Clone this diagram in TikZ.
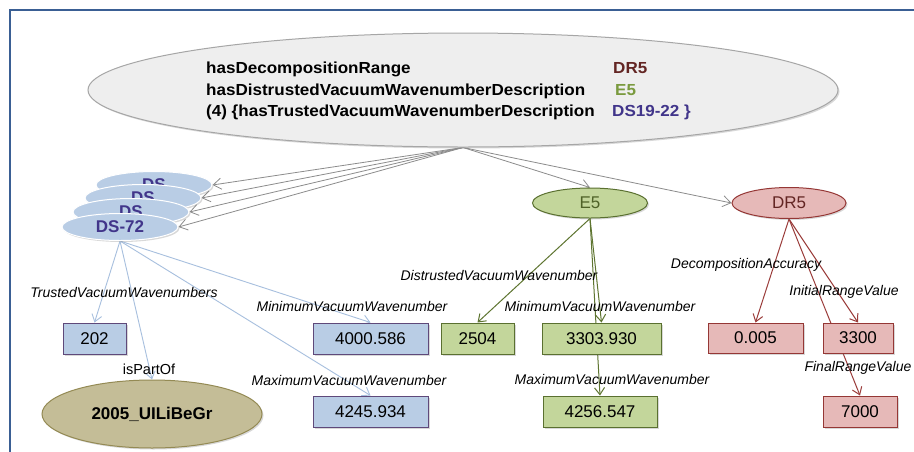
\documentclass[tikz,border=0pt]{standalone}
\usepackage{fontspec}
\setmainfont{Liberation Sans}
\usepackage{graphicx}
\usetikzlibrary{shapes.geometric,arrows.meta,shadows}
\definecolor{frameblue}{HTML}{3A5F94}
\definecolor{bigfill}{HTML}{EEEEEE}
\definecolor{bigdraw}{HTML}{A6A6A6}
\definecolor{dsfill}{HTML}{B9CDE5}
\definecolor{dstext}{HTML}{41358A}
\definecolor{bluedraw}{HTML}{5F497A}
\definecolor{blueline}{HTML}{A7BFDE}
\definecolor{grfill}{HTML}{C3D69B}
\definecolor{grdraw}{HTML}{5A7030}
\definecolor{grtext}{HTML}{4F6228}
\definecolor{grline}{HTML}{5E7530}
\definecolor{e5text}{HTML}{7A9A3E}
\definecolor{rdfill}{HTML}{E6B9B8}
\definecolor{rddraw}{HTML}{953735}
\definecolor{rdtext}{HTML}{632523}
\definecolor{rdline}{HTML}{9B3D3B}
\definecolor{tanfill}{HTML}{C4BD97}
\definecolor{tandraw}{HTML}{948A54}
\definecolor{arrgray}{HTML}{8C8C8C}
\pgfdeclarelayer{bglayer}
\pgfdeclarelayer{edges}
\pgfsetlayers{bglayer,edges,main}
\begin{document}
\begin{tikzpicture}[x=1pt,y=-1pt,
  shad/.style={drop shadow={opacity=0.3,shadow xshift=1.5pt,shadow yshift=-1.5pt}},
  valbox/.style={rectangle,draw,line width=1pt,minimum height=31pt,inner sep=0pt,
    font=\fontsize{17}{20}\selectfont,shad},
  bluebox/.style={valbox,fill=dsfill,draw=bluedraw},
  greenbox/.style={valbox,fill=grfill,draw=grdraw},
  redbox/.style={valbox,fill=rdfill,draw=rddraw},
  dsell/.style={ellipse,fill=dsfill,draw=white,line width=1pt,minimum width=116pt,
    minimum height=27pt,inner sep=0pt,font=\fontsize{17}{20}\selectfont\bfseries,
    text=dstext,shad},
  lbl/.style={inner sep=0pt,font=\fontsize{14}{16}\selectfont\itshape},
  ptext/.style={anchor=base west,inner sep=0pt,font=\fontsize{16}{19}\selectfont\bfseries},
  garrow/.style={draw=arrgray,line width=0.8pt,-{Straight Barb[length=8pt,width=11pt]}},
  barrow/.style={draw=blueline,line width=0.9pt,-{Straight Barb[length=7pt,width=10pt]}},
  gnarrow/.style={draw=grline,line width=1pt,-{Straight Barb[length=7pt,width=10pt]}},
  rdarrow/.style={draw=rdline,line width=1pt,-{Straight Barb[length=7pt,width=10pt]}}
]
\begin{pgfonlayer}{bglayer}
\fill[white] (0,0) rectangle (914,451);
\end{pgfonlayer}
\useasboundingbox (0,0) rectangle (914,451);
% frame
\draw[frameblue,line width=2.4pt] (10,470) -- (10,10) -- (930,10);

% top ellipse
\node[ellipse,fill=bigfill,draw=bigdraw,line width=1pt,minimum width=750pt,
  minimum height=114pt,inner sep=0pt,shad] (big) at (463,90) {};
\node[ptext] (t1) at (206,73) {\scalebox{1.065}[1]{hasDecompositionRange}};
\node[ptext] (t2) at (206,95) {\scalebox{1.065}[1]{hasDistrustedVacuumWavenumberDescription}};
\node[ptext] (t3) at (206,116) {\scalebox{1.065}[1]{(4) \{hasTrustedVacuumWavenumberDescription}};
\node[ptext,text=rdtext] (v1) at (613,73) {\scalebox{1.065}[1]{DR5}};
\node[ptext,text=e5text] (v2) at (615,95) {\scalebox{1.065}[1]{E5}};
\node[ptext,text=dstext] (v3) at (612,116) {\scalebox{1.065}[1]{DS19-22 \}}};

% DS stack
\node[dsell] (dsA) at (154,185) {DS};
\node[dsell] (dsB) at (143,198) {DS};
\node[dsell] (dsC) at (131,212) {DS};
\node[dsell] (ds72) at (120,227) {DS-72};

% E5 and DR5
\node[ellipse,fill=grfill,draw=grdraw,line width=1pt,minimum width=115pt,minimum height=30pt,
  inner sep=0pt,font=\fontsize{17}{20}\selectfont,text=grtext,shad] (e5) at (590,203) {E5};
\node[ellipse,fill=rdfill,draw=rddraw,line width=1pt,minimum width=114pt,minimum height=31pt,
  inner sep=0pt,font=\fontsize{17}{20}\selectfont,text=rdtext,shad] (dr5) at (789,203) {DR5};

% value boxes
\node[bluebox,minimum width=63pt] (b202) at (94.5,338.5) {202};
\node[bluebox,minimum width=115pt] (bmin) at (370.5,338.5) {4000.586};
\node[bluebox,minimum width=115pt] (bmax) at (370.5,411.5) {4245.934};
\node[ellipse,fill=tanfill,draw=tandraw,line width=1pt,minimum width=220pt,minimum height=68pt,
  inner sep=0pt,font=\fontsize{17}{20}\selectfont\bfseries,shad] (uli) at (152,414) {2005\_UILiBeGr};
\node[greenbox,minimum width=73pt] (g2504) at (477.5,338.5) {2504};
\node[greenbox,minimum width=119pt] (gmin) at (601.5,338.5) {3303.930};
\node[greenbox,minimum width=114pt] (gmax) at (600,411.5) {4256.547};
\node[redbox,minimum width=95pt,minimum height=30pt] (racc) at (755.5,338) {0.005};
\node[redbox,minimum width=70pt,minimum height=30pt] (rini) at (858,338) {3300};
\node[redbox,minimum width=74pt] (rfin) at (860,411.5) {7000};

% labels
\node[lbl] (lTrusted) at (124,292) {TrustedVacuumWavenumbers};
\node[inner sep=0pt,font=\fontsize{14.5}{16}\selectfont] (lPart) at (149,369) {isPartOf};
\node[lbl] (lMin1) at (352,306) {MinimumVacuumWavenumber};
\node[lbl] (lMax1) at (349,380) {MaximumVacuumWavenumber};
\node[lbl] (lDist) at (499,275) {DistrustedVacuumWavenumber};
\node[lbl] (lMin2) at (600,306) {MinimumVacuumWavenumber};
\node[lbl] (lMax2) at (612,379) {MaximumVacuumWavenumber};
\node[lbl] (lAcc) at (746,265) {DecompositionAccuracy};
\node[lbl] (lInit) at (844,292) {InitialRangeValue};
\node[lbl] (lFinal) at (858,368) {FinalRangeValue};

\begin{pgfonlayer}{edges}
\draw[garrow] (big.south) -- (dsA.east);
\draw[garrow] (big.south) -- (dsB.east);
\draw[garrow] (big.south) -- (dsC.east);
\draw[garrow] (big.south) -- (ds72.east);
\draw[garrow] (big.south) -- (e5.north);
\draw[garrow] (big.south) -- (dr5.west);
\draw[barrow] (ds72.south) -- (b202.north);
\draw[barrow] (ds72.south) -- (uli.north);
\draw[barrow] (ds72.south) -- (bmin.north);
\draw[barrow] (ds72.south) -- (bmax.north);
\draw[gnarrow] (e5.south) -- (g2504.north);
\draw[gnarrow] (e5.south) -- (gmin.north);
\draw[gnarrow] (e5.south) -- (gmax.north);
\draw[rdarrow] (dr5.south) -- (racc.north);
\draw[rdarrow] (dr5.south) -- (rini.north);
\draw[rdarrow] (dr5.south) -- (rfin.north);
\end{pgfonlayer}
\end{tikzpicture}
\end{document}
